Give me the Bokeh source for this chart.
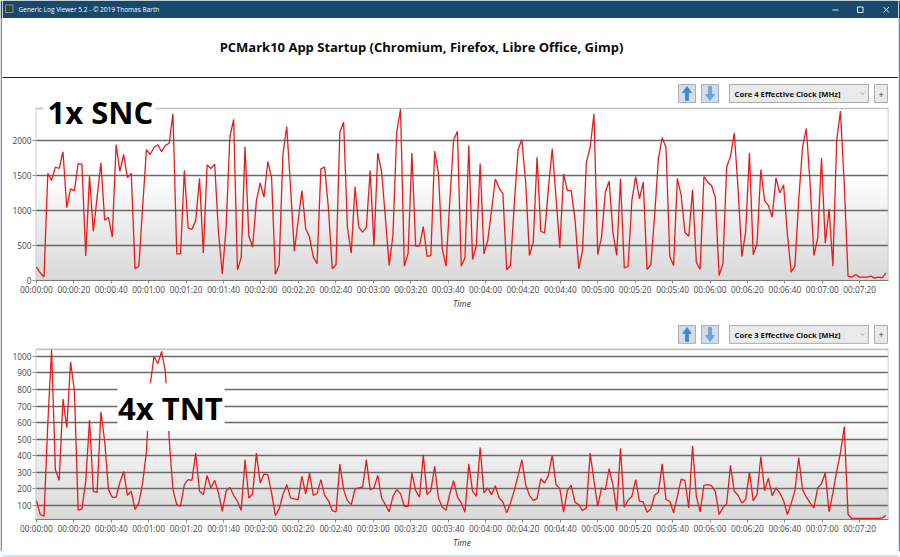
import numpy as np
from bokeh.plotting import figure
from bokeh.layouts import column, row
from bokeh.models import Range1d, FixedTicker
from bokeh.embed import file_html
from bokeh.resources import INLINE
from bokeh.core.properties import value

# ---------------- texts ----------------
WINDOW_TITLE = "Generic Log Viewer 5.2 - \u00a9 2019 Thomas Barth"
CHART_TITLE = "PCMark10 App Startup (Chromium, Firefox, Libre Office, Gimp)"
TOP_LABEL = "1x SNC"
BOTTOM_LABEL = "4x TNT"
TOP_SERIES_NAME = "Core 4 Effective Clock [MHz]"
BOTTOM_SERIES_NAME = "Core 3 Effective Clock [MHz]"
X_AXIS_LABEL = "Time"
SAMPLE_INTERVAL_S = 2.027

# ---------------- data ----------------
core4_mhz = [
    190, 110, 50, 1530, 1430, 1620, 1600, 1840, 1040, 1310,
    1280, 1670, 1660, 350, 1490, 700, 1190, 1680, 860, 900,
    620, 1940, 1560, 1800, 1470, 1530, 170, 200, 1050, 1870,
    1800, 1900, 1940, 1840, 1930, 1960, 2380, 380, 380, 1570,
    750, 730, 860, 1460, 395, 1650, 1600, 1660, 690, 95,
    740, 2050, 2300, 150, 330, 1910, 640, 475, 1140, 1395,
    1190, 1700, 1470, 85, 220, 1810, 2200, 1330, 420,
    850, 1285, 740, 620, 333, 240, 1595, 1620, 1024, 167,
    224, 2120, 2260, 760, 390, 1340, 760, 690, 760, 1570,
    490, 1820, 1557, 905, 214, 643, 2120, 2450, 205, 390,
    1820, 490, 490, 770, 343, 357, 1850, 1524, 452, 205,
    1140, 2010, 2130, 205, 324, 1930, 300, 500, 1670, 380,
    570, 1000, 1450, 1320, 1240, 152, 214, 1095, 1870, 2010,
    1400, 357, 548, 1760, 700, 680, 1320, 1880, 1190, 467,
    1524, 1285, 1285, 880, 167, 430, 1690,
    1900, 2380, 370, 620, 1260, 1420, 690, 357, 1450, 180,
    200, 1140, 1485, 1167, 1405, 157, 224, 930, 1740, 2040,
    1900, 343, 214, 1460, 1215, 690, 633, 1295, 262, 157,
    1485, 1405, 1357, 1190, 71, 238, 1620, 1770, 2110, 1310,
    343, 690, 1824, 367, 524, 1586, 1140, 1070, 905, 1467,
    1250, 1367, 667, 119, 205, 1157, 1900, 2170, 1380, 357,
    605, 1750, 533, 1024, 205, 2000, 2420, 1380, 62, 48,
    86, 48, 48, 48, 62, 33, 48, 38, 110,
]

core3_mhz = [
    130, 46, 36, 596, 1040, 316, 252, 742, 570, 966,
    796, 72, 80, 246, 616, 186, 180, 666, 486, 196,
    150, 150, 240, 306, 162, 186, 76, 116, 236, 426,
    830, 1000, 956, 1030, 906, 500, 196, 106, 96, 226,
    256, 252, 416, 186, 166, 282, 206, 252, 176, 66,
    186, 210, 162, 126, 70, 376, 146, 170, 416, 236,
    290, 286, 176, 40, 80, 166, 226, 146, 140, 136,
    276, 170, 296, 162, 172, 256, 162, 130, 70, 62,
    350, 196, 130, 106, 200, 206, 212, 376, 196, 206,
    282, 146, 106, 62, 156, 196, 172, 96, 96, 296,
    190, 150, 406, 166, 190, 336, 146, 92, 72, 172,
    250, 152, 116, 60, 352, 186, 156, 450, 176, 206,
    166, 220, 146, 122, 56, 116, 192, 282, 376, 226,
    162, 130, 142, 262, 236, 282, 404, 226, 202, 60,
    192, 222, 120, 106, 70, 86,
    416, 250, 96, 206, 196, 322, 226, 70, 446, 90,
    132, 156, 256, 126, 122, 60, 80, 162, 180, 352,
    136, 126, 56, 156, 260, 250, 86, 460, 156, 62,
    222, 226, 220, 186, 46, 86, 112, 342, 186, 162,
    116, 136, 300, 130, 166, 396, 190, 266, 160, 206,
    176, 130, 46, 112, 192, 390, 196, 152, 116, 86,
    206, 232, 296, 62, 176, 306, 420, 576, 46, 22,
    22, 22, 22, 22, 22, 22, 22, 26, 40,
]

time_tick_s = list(range(0, 441, 20))
time_tick_labels = ["%02d:%02d:%02d" % (s // 3600, (s % 3600) // 60, s % 60) for s in time_tick_s]
top_y_ticks = [0, 500, 1000, 1500, 2000]
bottom_y_ticks = [100, 200, 300, 400, 500, 600, 700, 800, 900, 1000]

# ---------------- style / geometry ----------------
FONT = "Open Sans"
RED = "#ea1b1b"
GRID = "#6a6a6a"
TITLEBAR = "#17496d"
WIN_BORDER = "#6f8ea3"
X_START, X_END = -0.5, 455.4
CONTENT_W = 896
FRAME_LEFT_PX, FRAME_RIGHT_PX = 35, 888
S_PER_PX = (X_END - X_START) / (FRAME_RIGHT_PX - FRAME_LEFT_PX)


def gradient_image(n=172):
    t = np.linspace(0.0, 1.0, n)  # 0 = bottom, 1 = top
    g = np.where(t >= 0.6, 255.0, 255.0 - 37.0 * ((0.6 - t) / 0.6) ** 0.9)
    img = np.empty((n, 1), dtype=np.uint32)
    v = img.view(dtype=np.uint8).reshape((n, 1, 4))
    v[:, 0, 0] = g
    v[:, 0, 1] = g
    v[:, 0, 2] = g
    v[:, 0, 3] = 255
    return img


def make_chart(fig_top_px, height, frame_top_px, plot_top_px, plot_bottom_px, v_bottom, v_top,
               y_ticks, values, big_label, big_box, big_text_xy, series_name, controls_top_px):
    v_per_px = (v_top - v_bottom) / (plot_bottom_px - plot_top_px)

    def T(px):
        return X_START + (px - FRAME_LEFT_PX) * S_PER_PX

    def V(py):
        return v_bottom + (plot_bottom_px - py) * v_per_px

    y_end = V(frame_top_px)
    p = figure(width=CONTENT_W, height=height, output_backend="svg", toolbar_location=None,
               x_range=Range1d(X_START, X_END), y_range=Range1d(v_bottom, y_end),
               min_border_left=FRAME_LEFT_PX - 2, min_border_right=898 - FRAME_RIGHT_PX,
               min_border_top=frame_top_px - fig_top_px,
               min_border_bottom=fig_top_px + height - plot_bottom_px)
    p.frame_align = False
    p.background_fill_color = "white"
    p.border_fill_color = "white"
    p.outline_line_color = None

    # plot area background gradient
    p.image_rgba(image=[gradient_image()], x=X_START, y=v_bottom, dw=X_END - X_START,
                 dh=v_top - v_bottom, level="image")

    p.xgrid.visible = False
    p.ygrid.grid_line_color = GRID
    p.ygrid.grid_line_width = 1.4

    # plot area border
    p.quad(left=[X_START], right=[X_END], bottom=[v_bottom], top=[v_top], fill_color=None,
           line_color="#c4c4c4", line_width=1.6)

    t = [i * SAMPLE_INTERVAL_S for i in range(len(values))]
    p.line(t, values, line_color=RED, line_width=1.3)

    # big overlay label with white box
    bl, br, bt, bb = big_box
    p.quad(left=[T(bl)], right=[T(br)], top=[V(bt)], bottom=[V(bb)], fill_color="white",
           line_color=None)
    p.text(x=[T(big_text_xy[0])], y=[V(big_text_xy[1])], text=[big_label], text_font=value(FONT),
           text_font_style="bold", text_font_size="31px", text_color="black",
           text_baseline="middle", text_align="left")

    # controls row (buttons, dropdown, plus)
    top_px = controls_top_px
    bot_px = top_px + 18
    for lft in (678, 701):
        p.quad(left=[T(lft)], right=[T(lft + 17)], top=[V(top_px)], bottom=[V(bot_px)],
               fill_color="#d3dde7", line_color="#a3b1bf", line_width=1)
    cx = 686.5
    up_x = [cx, cx - 4.5, cx - 1.6, cx - 1.6, cx + 1.6, cx + 1.6, cx + 4.5]
    up_y = [top_px + 2, top_px + 8, top_px + 8, top_px + 16, top_px + 16, top_px + 8, top_px + 8]
    p.patch([T(v) for v in up_x], [V(v) for v in up_y], fill_color="#3a86d6",
            line_color="#2f6fb3", line_width=0.5)
    cx = 709.5
    dn_y = [bot_px - 2, bot_px - 8, bot_px - 8, bot_px - 16, bot_px - 16, bot_px - 8, bot_px - 8]
    dn_x = [cx, cx - 4.5, cx - 1.6, cx - 1.6, cx + 1.6, cx + 1.6, cx + 4.5]
    p.patch([T(v) for v in dn_x], [V(v) for v in dn_y], fill_color="#6aa6e4",
            line_color="#4b8bcc", line_width=0.5)
    p.quad(left=[T(729)], right=[T(868)], top=[V(top_px)], bottom=[V(bot_px)],
           fill_color="#eaeaea", line_color="#adadad", line_width=1)
    p.text(x=[T(734)], y=[V(top_px + 9.5)], text=[series_name], text_font=value(FONT),
           text_font_style="bold", text_font_size="7.7px", text_color="#111111",
           text_baseline="middle", text_align="left")
    p.line([T(860), T(862), T(864)], [V(top_px + 8), V(top_px + 10), V(top_px + 8)],
           line_color="#a0a0a0", line_width=1)
    p.quad(left=[T(874)], right=[T(887)], top=[V(top_px)], bottom=[V(bot_px)],
           fill_color="#e9e9e9", line_color="#adadad", line_width=1)
    p.text(x=[T(880.5)], y=[V(top_px + 9.5)], text=["+"], text_font=value(FONT),
           text_font_size="9px", text_color="#333333", text_align="center", text_baseline="middle")

    xa = p.xaxis[0]
    xa.ticker = FixedTicker(ticks=time_tick_s)
    xa.major_label_overrides = dict(zip(time_tick_s, time_tick_labels))
    xa.major_label_text_font = FONT
    xa.major_label_text_font_size = "8.3px"
    xa.major_label_text_color = "#474747"
    xa.major_label_standoff = 0
    xa.major_tick_out = 3
    xa.major_tick_in = 0
    xa.minor_tick_out = 0
    xa.minor_tick_in = 0
    xa.axis_line_color = "#7a7a7a"
    xa.major_tick_line_color = "#8a8a8a"
    xa.axis_label = X_AXIS_LABEL
    xa.axis_label_text_font = FONT
    xa.axis_label_text_font_style = "italic"
    xa.axis_label_text_font_size = "8.5px"
    xa.axis_label_text_color = "#333333"
    xa.axis_label_standoff = 0

    ya = p.yaxis[0]
    ya.ticker = FixedTicker(ticks=y_ticks)
    ya.major_label_text_font = FONT
    ya.major_label_text_font_size = "8.3px"
    ya.major_label_text_color = "#474747"
    ya.major_label_standoff = 1
    ya.major_tick_out = 3
    ya.major_tick_in = 0
    ya.minor_tick_out = 0
    ya.minor_tick_in = 0
    ya.axis_line_color = None
    ya.major_tick_line_color = "#8a8a8a"
    return p


def plain_fig(width, height, x0, x1, y0, y1):
    f = figure(width=width, height=height, output_backend="svg", toolbar_location=None,
               x_range=Range1d(x0, x1), y_range=Range1d(y1, y0), min_border=0,
               min_border_left=0, min_border_right=0, min_border_top=0, min_border_bottom=0,
               x_axis_type=None, y_axis_type=None)
    f.frame_align = False
    f.outline_line_color = None
    f.grid.visible = False
    f.background_fill_color = "white"
    f.border_fill_color = "white"
    return f


# ---------------- window frame strips ----------------
def side_strip(x0, x1):
    s = plain_fig(2, 557, x0, x1, 0, 557)
    s.quad(left=[x0], right=[x1], top=[0], bottom=[17.5], fill_color=TITLEBAR, line_color=None)
    s.quad(left=[x0], right=[x1], top=[17.5], bottom=[550.5], fill_color=WIN_BORDER, line_color=None)
    s.quad(left=[x0], right=[x1], top=[550.5], bottom=[557], fill_color="#f4f6f7", line_color=None)
    return s


left_strip = side_strip(0, 2)
right_strip = side_strip(898, 900)

# ---------------- header (title bar + chart title) ----------------
h = plain_fig(CONTENT_W, 78, 2, 898, 0, 78)
h.quad(left=[2], right=[898], top=[0], bottom=[17.5], fill_color=TITLEBAR, line_color=None)
h.quad(left=[5], right=[12.5], top=[4.5], bottom=[12], fill_color="#34453a", line_color="#9fa8a2",
       line_width=0.8)
h.text(x=[18], y=[8.6], text=[WINDOW_TITLE], text_font=value(FONT), text_font_size="6.5px",
       text_color="white", text_baseline="middle")
h.segment(x0=[832], y0=[9.5], x1=[838], y1=[9.5], line_color="#e6edf2", line_width=1)
h.quad(left=[857], right=[862.5], top=[6.5], bottom=[12], fill_color=None,
       line_color="#e6edf2", line_width=1)
h.segment(x0=[883, 883], y0=[6.5, 12], x1=[888.5, 888.5], y1=[12, 6.5], line_color="#e6edf2",
          line_width=1)
h.text(x=[421], y=[46], text=[CHART_TITLE], text_font=value(FONT), text_font_style="bold",
       text_font_size="13px", text_color="#0a0a0a", text_align="center", text_baseline="middle")
h.segment(x0=[2], y0=[77.3], x1=[898], y1=[77.3], line_color="#1e1e1e", line_width=1.6)

# ---------------- charts ----------------
top = make_chart(fig_top_px=78, height=238, frame_top_px=80, plot_top_px=108, plot_bottom_px=280,
                 v_bottom=0, v_top=2457, y_ticks=top_y_ticks, values=core4_mhz,
                 big_label=TOP_LABEL, big_box=(43, 155, 88, 130), big_text_xy=(47, 111.5),
                 series_name=TOP_SERIES_NAME, controls_top_px=84)

sep = plain_fig(CONTENT_W, 2, 0, 1, 0, 1)
sep.background_fill_color = "#979797"
sep.border_fill_color = "#979797"

bottom = make_chart(fig_top_px=318, height=232, frame_top_px=321, plot_top_px=349,
                    plot_bottom_px=520, v_bottom=16, v_top=1042, y_ticks=bottom_y_ticks,
                    values=core3_mhz, big_label=BOTTOM_LABEL, big_box=(117, 224, 383, 431),
                    big_text_xy=(117.5, 407.5), series_name=BOTTOM_SERIES_NAME,
                    controls_top_px=325)

foot = plain_fig(CONTENT_W, 7, 2, 898, 550, 557)
foot.quad(left=[2], right=[898], top=[550], bottom=[551], fill_color=WIN_BORDER, line_color=None)
foot.quad(left=[2], right=[898], top=[551], bottom=[557], fill_color="#f4f6f7", line_color=None)

center = column(h, top, sep, bottom, foot, spacing=0)
layout = row(left_strip, center, right_strip, spacing=0)

open("out.html", "w").write(file_html(layout, INLINE))
